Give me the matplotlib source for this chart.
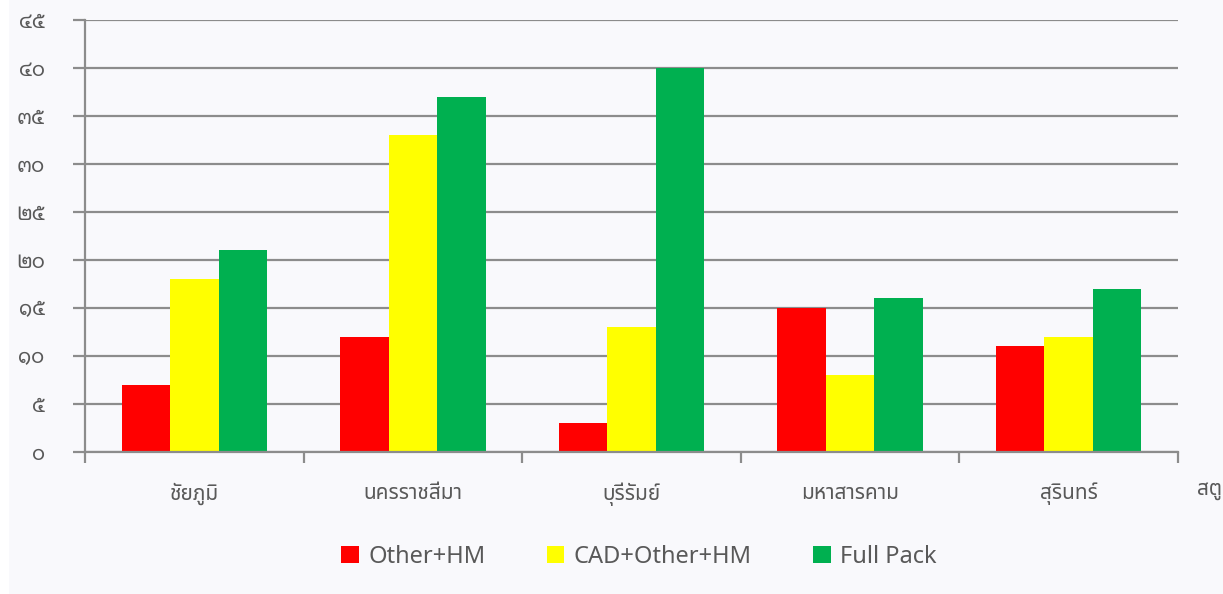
import matplotlib
matplotlib.use("Agg")
import numpy as np
import matplotlib.pyplot as plt
from matplotlib.patches import Rectangle

# ── Data ─────────────────────────────────────────────────────
provinces   = ["ชัยภูมิ", "นครราชสีมา", "บุรีรัมย์", "มหาสารคาม", "สุรินทร์"]
other_hm    = [7, 12, 3, 15, 11]
cad_other   = [18, 33, 13, 8, 12]
full_pack   = [21, 37, 40, 16, 17]
series_names = ["Other+HM", "CAD+Other+HM", "Full Pack"]
thai_digits = "๐๑๒๓๔๕๖๗๘๙"
y_ticks = list(range(0, 46, 5))

COLORS    = ["#ff0000", "#ffff00", "#00b050"]
BG        = "#f9f9fc"
GRID_COL  = "#8c8c8c"
TEXT_COL  = "#595959"

plt.rcParams["font.family"] = ["Noto Sans Thai", "Noto Sans", "DejaVu Sans"]


def to_thai(n):
    return "".join(thai_digits[int(c)] for c in str(n))


fig = plt.figure(figsize=(12.23, 5.94), dpi=100, facecolor="white")
fig.add_artist(Rectangle((9 / 1223, 0), 1, 1, transform=fig.transFigure,
                         facecolor=BG, edgecolor="none", zorder=-10))
ax = fig.add_axes([85 / 1223, 1 - 452 / 594, (1178 - 85) / 1223, 432 / 594])
ax.set_facecolor(BG)

x = np.arange(len(provinces))
w = 0.222
for i, (vals, name) in enumerate(zip([other_hm, cad_other, full_pack], series_names)):
    ax.bar(x + (i - 1) * w, vals, width=w, color=COLORS[i], label=name, zorder=3,
           linewidth=0)

ax.set_xlim(-0.5, len(provinces) - 0.5)
ax.set_ylim(0, 45)

# y axis (looped Thai digits)
ax.set_yticks(y_ticks)
ax.set_yticklabels([to_thai(v) for v in y_ticks], fontsize=14.5, color=TEXT_COL,
                   family=["Noto Sans Thai Looped", "Noto Sans Thai", "DejaVu Sans"])
ax.grid(axis="y", color=GRID_COL, linewidth=1.6, zorder=1)
ax.tick_params(axis="y", length=9, width=1.6, color=GRID_COL, pad=20)

# x axis: ticks on category boundaries, labels at centres
ax.set_xticks(np.arange(-0.5, len(provinces), 1.0))
ax.set_xticklabels([])
ax.set_xticks(x, minor=True)
ax.set_xticklabels(provinces, minor=True, fontsize=15, color=TEXT_COL)
ax.tick_params(axis="x", which="major", length=8, width=1.6, color=GRID_COL)
ax.tick_params(axis="x", which="minor", length=0, pad=22)

for s in ["top", "right"]:
    ax.spines[s].set_visible(False)
for s in ["left", "bottom"]:
    ax.spines[s].set_color(GRID_COL)
    ax.spines[s].set_linewidth(1.6)
    ax.spines[s].set_zorder(4)

# clipped extra label at right edge
fig.text(1197 / 1223, 1 - 490 / 594, "สตูล", fontsize=15, color=TEXT_COL,
         va="center", ha="left")

leg = fig.legend(loc="center", bbox_to_anchor=(0.5225, 1 - 557 / 594), ncol=3,
                 frameon=False, fontsize=17, handlelength=0.75, handleheight=0.75,
                 handletextpad=0.4, columnspacing=2.6, labelcolor=TEXT_COL)

fig.savefig("out.png", dpi=100, facecolor="white")
